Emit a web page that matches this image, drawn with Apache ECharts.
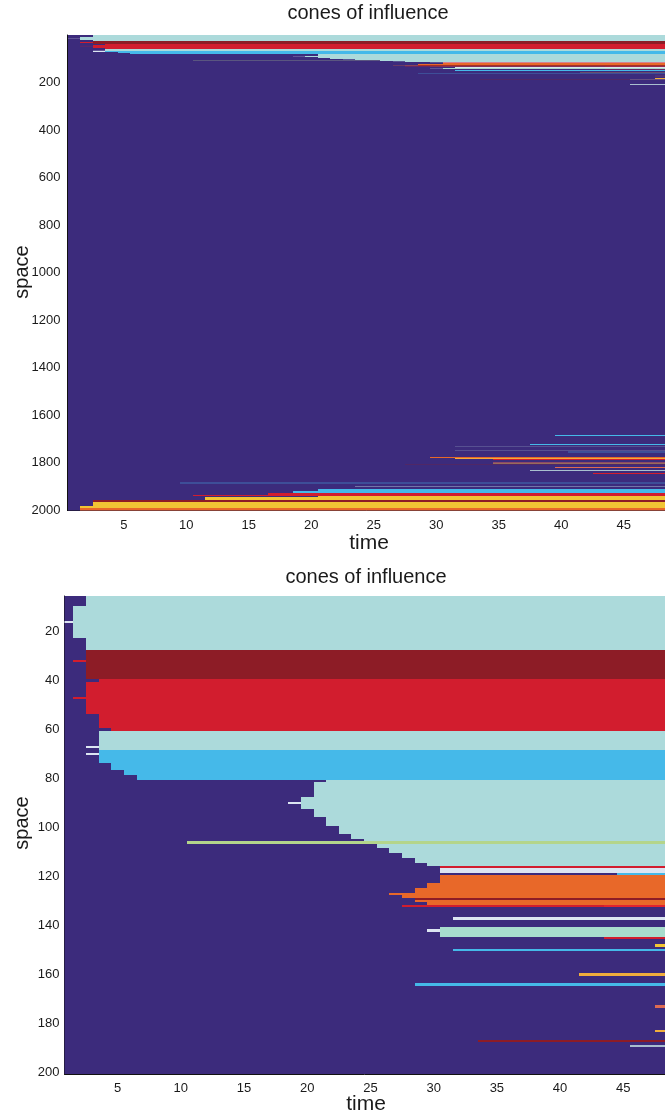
<!DOCTYPE html>
<html>
<head>
<meta charset="utf-8">
<script src="https://cdn.jsdelivr.net/npm/echarts@6/dist/echarts.min.js"></script>
<style>
  html, body { margin: 0; padding: 0; background: #ffffff; }
  #chart { width: 665px; height: 1116px; }
</style>
</head>
<body>
<div id="chart"></div>
<script>
// Colour of each site state (index = state id)
const stateColors = [
  '#3c2b7c', // 0 quiescent
  '#acdadb', // 1 cyan
  '#8d1c26', // 2 dark red
  '#d21d2e', // 3 red
  '#45b9e9', // 4 sky blue
  '#e86829', // 5 orange
  '#b4d58b', // 6 green
  '#f1c534', // 7 yellow
  '#dce5f2', // 8 pale
  '#a8dccd', // 9 mint
  '#de6b52', // 10 salmon
  '#f0ad3c', // 11 amber
  '#a9bfcf', // 12 grey-blue
  '#e2232f'  // 13 bright red
];

const timeTicks = [5, 10, 15, 20, 25, 30, 35, 40, 45];
const spaceTicksFull = [200, 400, 600, 800, 1000, 1200, 1400, 1600, 1800, 2000];
const spaceTicksZoom = [20, 40, 60, 80, 100, 120, 140, 160, 180, 200];
const nSteps = 48;
const nSites = 2000;

// Each band: [first site, last site, first time step, last time step, state]
const baseBand = [[1, nSites, 1, nSteps, 0]];

// Sites 1..220: cones spreading from the upper boundary
const upperBands = [
  [1, 9, 3, 48, 1],
  [10, 22, 2, 48, 1],
  [16, 16, 1, 1, 8],
  [23, 27, 3, 48, 1],
  [28, 39, 3, 48, 2],
  [32, 32, 2, 2, 3],
  [40, 40, 4, 48, 3],
  [41, 53, 3, 48, 3],
  [47, 47, 2, 2, 3],
  [54, 59, 4, 48, 3],
  [60, 60, 5, 48, 3],
  [61, 68, 4, 48, 1],
  [67, 67, 3, 3, 8],
  [69, 73, 4, 48, 4],
  [70, 70, 3, 3, 8],
  [74, 76, 5, 48, 4],
  [77, 78, 6, 48, 4],
  [79, 80, 7, 48, 4],
  [81, 81, 22, 48, 1],
  [82, 87, 21, 48, 1],
  [88, 92, 20, 48, 1],
  [90, 90, 19, 19, 8],
  [93, 95, 21, 48, 1],
  [96, 99, 22, 48, 1],
  [100, 102, 23, 48, 1],
  [103, 104, 24, 48, 1],
  [105, 105, 25, 48, 1],
  [106, 106, 11, 48, 6],
  [107, 108, 26, 48, 1],
  [109, 110, 27, 48, 1],
  [111, 112, 28, 48, 1],
  [113, 114, 29, 48, 1],
  [115, 115, 30, 48, 1],
  [116, 116, 31, 48, 3],
  [117, 118, 31, 48, 8],
  [119, 119, 45, 48, 4],
  [120, 122, 31, 48, 5],
  [123, 124, 30, 48, 5],
  [125, 126, 29, 48, 5],
  [127, 127, 27, 48, 5],
  [128, 128, 28, 48, 5],
  [129, 129, 29, 48, 2],
  [130, 130, 29, 48, 5],
  [131, 131, 30, 48, 5],
  [132, 132, 28, 48, 3],
  [132, 132, 44, 48, 13],
  [137, 137, 32, 48, 8],
  [141, 144, 31, 48, 9],
  [142, 142, 30, 30, 8],
  [145, 145, 44, 48, 3],
  [148, 148, 48, 48, 7],
  [150, 150, 32, 48, 4],
  [160, 160, 42, 48, 11],
  [164, 164, 29, 48, 4],
  [173, 173, 48, 48, 10],
  [183, 183, 48, 48, 11],
  [187, 187, 34, 48, 2],
  [189, 189, 46, 48, 12],
  [209, 209, 46, 48, 12]
];

// Sites 1650..2000: cones spreading from the lower boundary
const lowerBands = [
  [1684, 1685, 40, 48, 4],
  [1722, 1723, 38, 48, 4],
  [1730, 1730, 32, 48, 12],
  [1750, 1750, 32, 48, 12],
  [1754, 1755, 41, 48, 4],
  [1778, 1779, 30, 48, 5],
  [1781, 1782, 32, 48, 11],
  [1786, 1786, 35, 48, 3],
  [1797, 1798, 35, 48, 10],
  [1801, 1802, 35, 48, 11],
  [1806, 1806, 28, 48, 2],
  [1820, 1820, 40, 48, 10],
  [1832, 1832, 38, 48, 12],
  [1845, 1845, 43, 48, 3],
  [1884, 1885, 10, 48, 4],
  [1898, 1899, 24, 48, 12],
  [1912, 1918, 21, 48, 4],
  [1919, 1926, 19, 48, 4],
  [1927, 1933, 17, 48, 3],
  [1934, 1940, 11, 48, 3],
  [1941, 1954, 21, 48, 7],
  [1946, 1956, 12, 48, 7],
  [1957, 1966, 3, 48, 2],
  [1967, 1980, 3, 48, 7],
  [1981, 1990, 2, 48, 7],
  [1991, 2000, 2, 48, 5]
];

const allBands = baseBand.concat(upperBands, lowerBands);
// [t0, t1, s0, s1, state] so the x/y dimensions map onto the axes
const bandData = allBands.map(b => [b[2], b[3], b[0], b[1], b[4]]);

const FONT = "'Liberation Sans', Arial, Helvetica, sans-serif";
const INK = '#1a1a1a';

// Snap edges to whole pixels when the span is at least a pixel, so that
// neighbouring bands meet without hairline seams; thinner bands stay fractional.
function snap(lo, hi) {
  const rl = Math.round(lo), rh = Math.round(hi);
  return (rh - rl >= 1) ? [rl, rh] : [lo, hi];
}

function renderBand(params, api) {
  const a = api.coord([api.value(0) - 0.5, api.value(2) - 0.5]);
  const b = api.coord([api.value(1) + 0.5, api.value(3) + 0.5]);
  const xs = snap(Math.min(a[0], b[0]), Math.max(a[0], b[0]));
  const ys = snap(Math.min(a[1], b[1]), Math.max(a[1], b[1]));
  const cs = params.coordSys;
  const rect = echarts.graphic.clipRectByRect(
    { x: xs[0], y: ys[0], width: xs[1] - xs[0], height: ys[1] - ys[0] },
    { x: cs.x, y: cs.y, width: cs.width, height: cs.height }
  );
  if (!rect) return;
  return { type: 'rect', shape: rect, style: { fill: stateColors[api.value(4)] } };
}

function xAxes(gridIndex, min, max) {
  const common = {
    type: 'value', gridIndex, min, max,
    splitLine: { show: false },
    axisLine: { show: true, onZero: false, lineStyle: { color: '#111', width: 1 } },
    axisTick: { show: true, inside: true, length: 6, customValues: timeTicks, lineStyle: { color: '#111' } }
  };
  return [
    Object.assign({}, common, {
      position: 'bottom',
      axisLabel: { show: true, customValues: timeTicks, margin: 8, color: INK, fontSize: 13, fontFamily: FONT, formatter: v => String(v) }
    }),
    Object.assign({}, common, { position: 'top', axisLabel: { show: false } })
  ];
}

function yAxes(gridIndex, min, max, ticks, margin) {
  const common = {
    type: 'value', gridIndex, min, max, inverse: true,
    splitLine: { show: false },
    axisLine: { show: true, onZero: false, lineStyle: { color: '#111', width: 1 } },
    axisTick: { show: true, inside: true, length: 6, customValues: ticks, lineStyle: { color: '#111' } }
  };
  return [
    Object.assign({}, common, {
      position: 'left',
      axisLabel: { show: true, customValues: ticks, margin, color: INK, fontSize: 13, fontFamily: FONT, formatter: v => String(v) }
    }),
    Object.assign({}, common, { position: 'right', axisLabel: { show: false } })
  ];
}

function label(text, x, y, size, rotate) {
  return {
    type: 'text', x, y, rotation: rotate ? Math.PI / 2 : 0,
    style: { text, fill: INK, font: `${size}px ${FONT}`, textAlign: 'center', textVerticalAlign: 'middle' },
    z: 10
  };
}

const chart = echarts.init(document.getElementById('chart'), null, { renderer: 'canvas' });

chart.setOption({
  animation: false,
  backgroundColor: '#ffffff',
  grid: [
    { left: 67.5, top: 35, width: 601.8, height: 475.5 },
    { left: 64.5, top: 596, width: 604.2, height: 478 }
  ],
  xAxis: xAxes(0, 0.5, 48.3).concat(xAxes(1, 0.8, 48.3)),
  yAxis: yAxes(0, 0.5, 2000.5, spaceTicksFull, 7).concat(yAxes(1, 5.5, 200.5, spaceTicksZoom, 5)),
  series: [
    { type: 'custom', xAxisIndex: 0, yAxisIndex: 0, renderItem: renderBand, data: bandData, encode: { x: [0, 1], y: [2, 3] }, silent: true },
    { type: 'custom', xAxisIndex: 2, yAxisIndex: 2, renderItem: renderBand, data: bandData, encode: { x: [0, 1], y: [2, 3] }, silent: true }
  ],
  graphic: [
    label('cones of influence', 368, 13, 20),
    label('time', 369, 543, 21),
    label('space', 22, 272, 20, true),
    label('cones of influence', 366, 577, 20),
    label('time', 366, 1104, 21),
    label('space', 22, 823, 20, true)
  ]
});
</script>
</body>
</html>
